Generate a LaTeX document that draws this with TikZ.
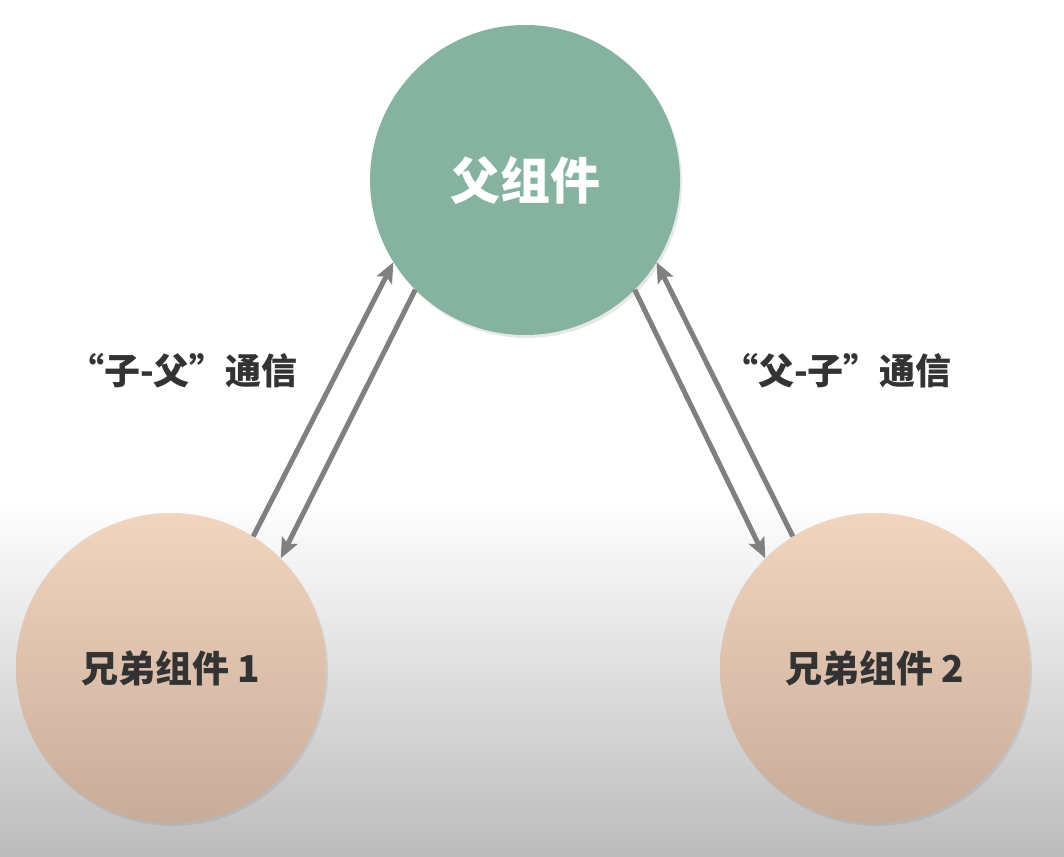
\documentclass[tikz,border=0pt]{standalone}
\usepackage{fontspec}
\usepackage{tikz}
\usetikzlibrary{arrows.meta, positioning, calc, shadows}
\setmainfont{Noto Sans CJK SC}
\definecolor{parentgreen}{RGB}{133, 179, 160}
\definecolor{peachtop}{RGB}{242, 213, 191}
\definecolor{peachbottom}{RGB}{200, 172, 154}
\definecolor{arrowgray}{RGB}{128, 128, 128}
\definecolor{textgray}{RGB}{51, 51, 51}
\definecolor{floorgray}{RGB}{188, 188, 188}

\begin{document}
\begin{tikzpicture}[x=1pt, y=-1pt,
    comp/.style={circle, minimum size=310pt, inner sep=0pt,
                 drop shadow={shadow xshift=2pt, shadow yshift=-3pt, opacity=0.18}},
    sibling/.style={comp, top color=peachtop, bottom color=peachbottom,
                    font=\fontsize{37}{42}\selectfont\bfseries, text=textgray},
    msg/.style={draw=arrowgray, line width=5pt,
                -{Stealth[length=20pt, width=17pt, inset=4pt]}},
    talk/.style={font=\fontsize{36}{40}\selectfont\bfseries, text=textgray}]
    % background
    \fill[white] (0,0) rectangle (1064,856);
    \shade[top color=white, bottom color=floorgray] (0,500) rectangle (1064,856);
    % components
    \node[comp, fill=parentgreen, text=white,
          font=\fontsize{50}{56}\selectfont\bfseries] (parent) at (525,180) {父组件};
    \node[sibling] (sib1) at (171,668) {兄弟组件 1};
    \node[sibling] (sib2) at (875,668) {兄弟组件 2};
    % communication
    \draw[msg] (sib1.58) -- (parent.212);
    \draw[msg] (parent.225) -- (sib1.45);
    \draw[msg] (parent.-45) -- (sib2.135);
    \draw[msg] (sib2.122) -- (parent.-32);
    \node[talk] (up) at (183,371) {“子-父”通信};
    \node[talk] (down) at (837,371) {“父-子”通信};
\end{tikzpicture}
\end{document}
